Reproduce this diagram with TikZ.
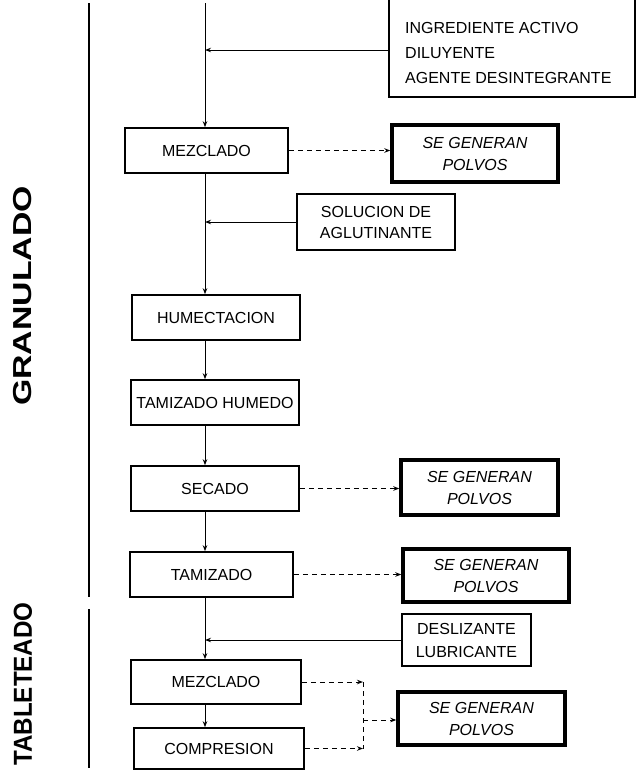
\documentclass[tikz,border=0pt]{standalone}
\usepackage{fontspec}
\setmainfont{Liberation Sans}
\usetikzlibrary{arrows.meta}

\tikzset{
  stage/.style={draw, line width=1.6pt, inner sep=0pt, align=center,
                font=\fontsize{16}{21}\selectfont},
  dustbox/.style={draw, line width=3.4pt, inner sep=0pt, align=center,
                font=\fontsize{16}{22}\selectfont\itshape},
  flow/.style={line width=1pt, -{Stealth[length=6pt,width=4.5pt]}},
  dust/.style={line width=1pt, dash pattern=on 5pt off 4pt,
               -{Stealth[length=6pt,width=4.5pt]}},
  dustline/.style={line width=1pt, dash pattern=on 5pt off 4pt},
  phase/.style={font=\fontsize{26}{26}\selectfont\bfseries, rotate=90, inner sep=0pt},
  rule/.style={line width=1.4pt},
}

\begin{document}
\begin{tikzpicture}[x=1pt, y=-1pt]
\useasboundingbox (0,0) rectangle (637,772);

% phase rules on the left
\draw[rule] (89,3) -- (89,597);
\draw[rule] (89,609) -- (89,768);
\node[phase] (granulado) at (23,296) {\scalebox{1.3}[1]{GRANULADO}};
\node[phase] (tableteado) at (23,684) {\scalebox{0.93}[1]{TABLETEADO}};

% process stages
\node[stage, minimum width=163pt, minimum height=45pt] (mez1) at (206.5,150.5) {MEZCLADO};
\node[stage, minimum width=168pt, minimum height=45pt] (hum)  at (216,317.5) {HUMECTACION};
\node[stage, minimum width=168pt, minimum height=45pt] (tamh) at (215,402.5) {TAMIZADO HUMEDO};
\node[stage, minimum width=168pt, minimum height=45pt] (sec)  at (215,488.5) {SECADO};
\node[stage, minimum width=163pt, minimum height=45pt] (tam)  at (211.5,574.5) {TAMIZADO};
\node[stage, minimum width=170pt, minimum height=44pt] (mez2) at (216,682) {MEZCLADO};
\node[stage, minimum width=170pt, minimum height=41pt] (comp) at (219,748.5) {COMPRESION};

% added materials
\node[stage, minimum width=246pt, minimum height=107pt] (ingr) at (512,43.5) {};
\node[anchor=west, inner sep=0pt, align=left, font=\fontsize{16}{25}\selectfont]
  (ingrtxt) at (405,53) {INGREDIENTE ACTIVO\\DILUYENTE\\AGENTE DESINTEGRANTE};
\node[stage, minimum width=158pt, minimum height=56pt] (sol)  at (376,222) {SOLUCION DE\\AGLUTINANTE};
\node[stage, minimum width=129pt, minimum height=52pt, font=\fontsize{16}{23}\selectfont]
  (desl) at (466.5,640) {DESLIZANTE\\LUBRICANTE};

% dust emission
\node[dustbox, minimum width=166pt, minimum height=57pt] (se1) at (475,153.5) {SE GENERAN\\POLVOS};
\node[dustbox, minimum width=157pt, minimum height=55pt] (se2) at (479.5,487.5) {SE GENERAN\\POLVOS};
\node[dustbox, minimum width=166pt, minimum height=53pt] (se3) at (486,575.5) {SE GENERAN\\POLVOS};
\node[dustbox, minimum width=167pt, minimum height=53pt] (se4) at (481.5,718.5) {SE GENERAN\\POLVOS};

% main flow line
\coordinate (top) at (205,3);
\coordinate (feed) at (205,50);
\draw[line width=1pt] (top) -- (feed);
\draw[flow] (feed) -- (feed |- mez1.north);
\draw[flow] (top |- mez1.south) -- (top |- hum.north);
\draw[flow] (top |- hum.south) -- (top |- tamh.north);
\draw[flow] (top |- tamh.south) -- (top |- sec.north);
\draw[flow] (top |- sec.south) -- (top |- tam.north);
\draw[flow] (top |- tam.south) -- (top |- mez2.north);
\draw[flow] (top |- mez2.south) -- (top |- comp.north);

% feeds into the main line
\draw[flow] (feed -| ingr.west) -- (feed);
\draw[flow] (sol.west) -- (sol.west -| top);
\draw[flow] (desl.west) -- (desl.west -| top);

% dust arrows
\draw[dust] (mez1.east) -- (mez1.east -| se1.west);
\draw[dust] (sec.east) -- (sec.east -| se2.west);
\draw[dust] (tam.east) -- (tam.east -| se3.west);
\coordinate (join) at (363,720);
\draw[dust] (mez2.east) -- (mez2.east -| join);
\draw[dust] (comp.east) -- (comp.east -| join);
\draw[dustline] (mez2.east -| join) -- (comp.east -| join);
\draw[dust] (join) -- (join -| se4.west);
\end{tikzpicture}
\end{document}
